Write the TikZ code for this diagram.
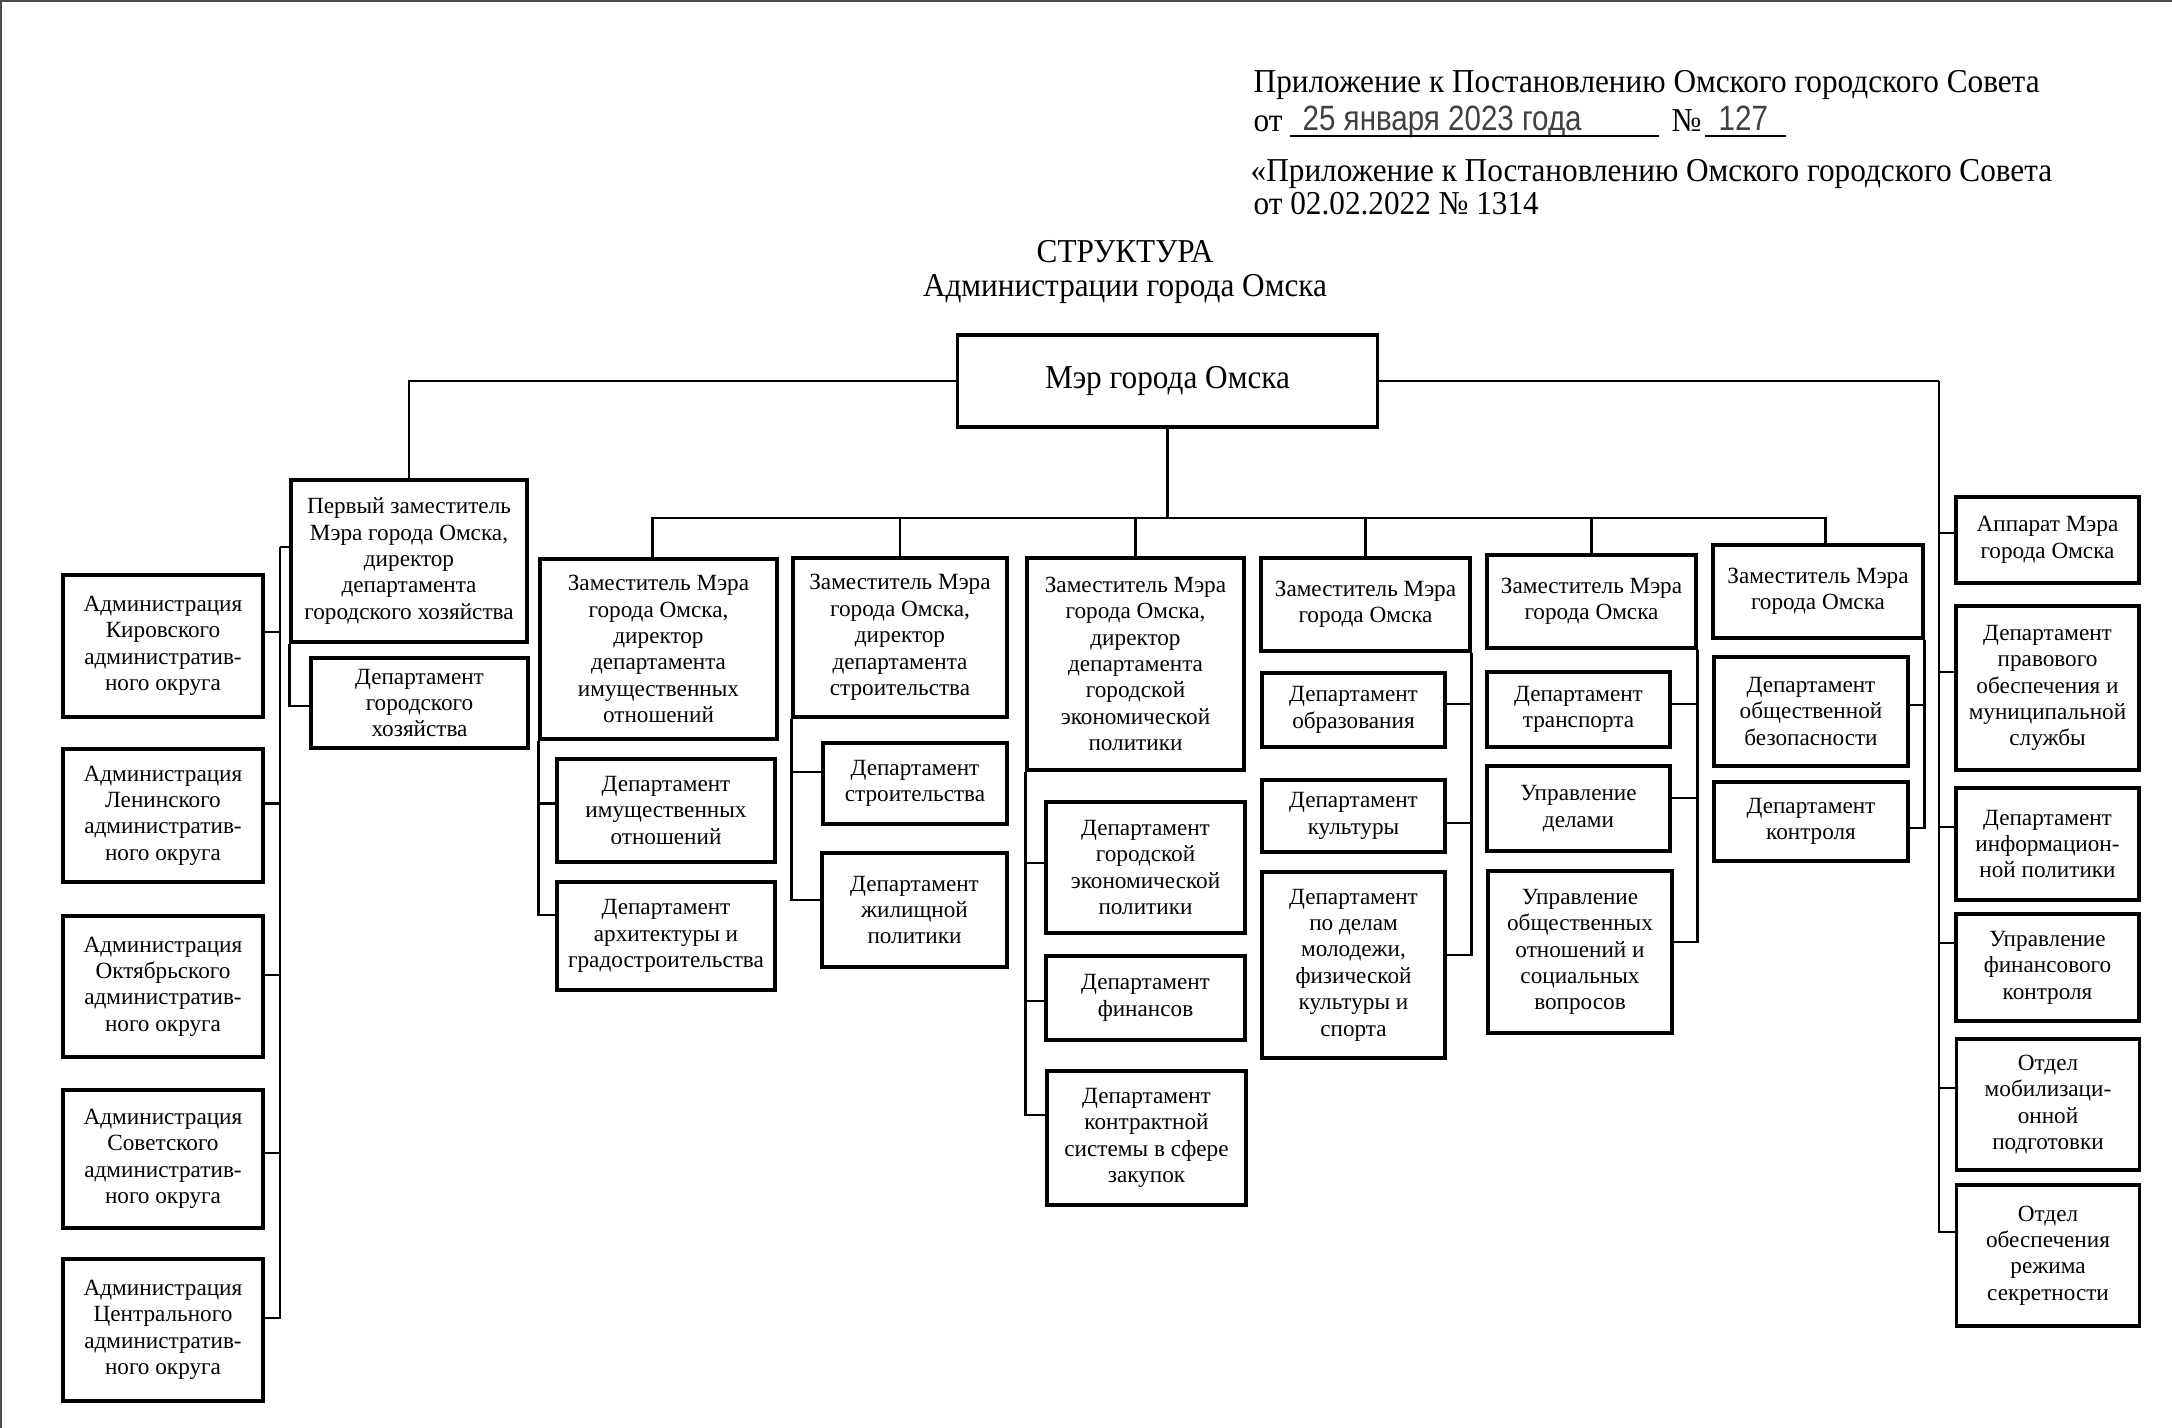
\documentclass[tikz,border=0pt]{standalone}
\usepackage{fontspec}
\setmainfont{Liberation Serif}
\newfontfamily\handfont[FakeStretch=0.84]{Liberation Sans}
\newfontfamily\headserif[FakeStretch=0.935]{Liberation Serif}
\newcommand\boxfont{\fontsize{6.6}{7.5}\selectfont}
\newcommand\headfont{\headserif\fontsize{9.5}{11}\selectfont}
\tikzset{
  orgbox/.style={draw, line width=0.9pt, inner sep=1pt, align=center, font=\boxfont},
  orgline/.style={line width=0.75pt},
  headline/.style={anchor=base west, inner sep=0pt, font=\headfont},
  handtext/.style={anchor=base west, inner sep=0pt, text=black!75, font=\handfont\fontsize{10}{12}\selectfont},
}
\begin{document}
\begin{tikzpicture}[x=0.01cm, y=-0.01cm]
  \useasboundingbox (0,0) rectangle (2172,1428);
  % edge of the scanned sheet
  \draw[line width=1.2pt, black!70] (0,1428) -- (0,0) -- (2172,0);

  % header
  \node[headline] (app1) at (1253,93) {Приложение к Постановлению Омского городского Совета};
  \node[headline] (app2) at (1253,132) {от};
  \node[handtext] (date) at (1302,131) {25 января 2023 года};
  \node[headline] (nsign) at (1671,132) {№};
  \node[handtext] (num) at (1718,131) {127};
  \draw[line width=0.5pt] (1290,136) -- (1659,136);
  \draw[line width=0.5pt] (1705,136) -- (1786,136);
  \node[headline] (app3) at (1250,182) {«Приложение к Постановлению Омского городского Совета};
  \node[headline] (app4) at (1253,215) {от 02.02.2022 № 1314};

  % title
  \node[font=\headfont] (ttl1) at (1125,252) {СТРУКТУРА};
  \node[font=\headfont] (ttl2) at (1125,289) {Администрации города Омска};

  % mayor
  \node[orgbox, font=\headfont, minimum width=4.19cm, minimum height=0.92cm] (mayor) at (1167.5,381) {Мэр города Омска};

  % first deputy and districts
  \node[orgbox, minimum width=2.36cm, minimum height=1.62cm] (fd) at (409,561)
    {Первый заместитель\\Мэра города Омска,\\директор\\департамента\\городского хозяйства};
  \node[orgbox, minimum width=2.17cm, minimum height=0.90cm] (dgh) at (419.5,703)
    {Департамент\\городского\\хозяйства};
  \node[orgbox, minimum width=2cm, minimum height=1.42cm] (kir) at (163,646)
    {Администрация\\Кировского\\административ-\\ного округа};
  \node[orgbox, minimum width=2cm, minimum height=1.33cm] (len) at (163,815.5)
    {Администрация\\Ленинского\\административ-\\ного округа};
  \node[orgbox, minimum width=2cm, minimum height=1.41cm] (okt) at (163,986.5)
    {Администрация\\Октябрьского\\административ-\\ного округа};
  \node[orgbox, minimum width=2cm, minimum height=1.38cm] (sov) at (163,1159)
    {Администрация\\Советского\\административ-\\ного округа};
  \node[orgbox, minimum width=2cm, minimum height=1.42cm] (cen) at (163,1330)
    {Администрация\\Центрального\\административ-\\ного округа};

  % deputies
  \node[orgbox, minimum width=2.37cm, minimum height=1.80cm] (z1) at (658.5,649)
    {Заместитель Мэра\\города Омска,\\директор\\департамента\\имущественных\\отношений};
  \node[orgbox, minimum width=2.18cm, minimum height=1.03cm] (d11) at (666,810.5)
    {Департамент\\имущественных\\отношений};
  \node[orgbox, minimum width=2.18cm, minimum height=1.08cm] (d12) at (666,936)
    {Департамент\\архитектуры и\\градостроительства};

  \node[orgbox, minimum width=2.14cm, minimum height=1.59cm] (z2) at (900,637.5)
    {Заместитель Мэра\\города Омска,\\директор\\департамента\\строительства};
  \node[orgbox, minimum width=1.84cm, minimum height=0.81cm] (d21) at (915,783.5)
    {Департамент\\строительства};
  \node[orgbox, minimum width=1.85cm, minimum height=1.14cm] (d22) at (914.5,910)
    {Департамент\\жилищной\\политики};

  \node[orgbox, minimum width=2.17cm, minimum height=2.12cm] (z3) at (1135.5,664)
    {Заместитель Мэра\\города Омска,\\директор\\департамента\\городской\\экономической\\политики};
  \node[orgbox, minimum width=1.99cm, minimum height=1.31cm] (d31) at (1145.5,867.5)
    {Департамент\\городской\\экономической\\политики};
  \node[orgbox, minimum width=1.99cm, minimum height=0.84cm] (d32) at (1145.5,998)
    {Департамент\\финансов};
  \node[orgbox, minimum width=1.99cm, minimum height=1.34cm] (d33) at (1146.5,1138)
    {Департамент\\контрактной\\системы в сфере\\закупок};

  \node[orgbox, minimum width=2.09cm, minimum height=0.93cm] (z4) at (1365.5,604.5)
    {Заместитель Мэра\\города Омска};
  \node[orgbox, minimum width=1.83cm, minimum height=0.74cm] (d41) at (1353.5,710)
    {Департамент\\образования};
  \node[orgbox, minimum width=1.83cm, minimum height=0.72cm] (d42) at (1353.5,816)
    {Департамент\\культуры};
  \node[orgbox, minimum width=1.83cm, minimum height=1.86cm] (d43) at (1353.5,965)
    {Департамент\\по делам\\молодежи,\\физической\\культуры и\\спорта};

  \node[orgbox, minimum width=2.09cm, minimum height=0.93cm] (z5) at (1591.5,601.5)
    {Заместитель Мэра\\города Омска};
  \node[orgbox, minimum width=1.83cm, minimum height=0.75cm] (d51) at (1578.5,709.5)
    {Департамент\\транспорта};
  \node[orgbox, minimum width=1.83cm, minimum height=0.85cm] (d52) at (1578.5,808.5)
    {Управление\\делами};
  \node[orgbox, minimum width=1.84cm, minimum height=1.62cm] (d53) at (1580,952)
    {Управление\\общественных\\отношений и\\социальных\\вопросов};

  \node[orgbox, minimum width=2.10cm, minimum height=0.93cm] (z6) at (1818,591.5)
    {Заместитель Мэра\\города Омска};
  \node[orgbox, minimum width=1.94cm, minimum height=1.09cm] (d61) at (1811,711.5)
    {Департамент\\общественной\\безопасности};
  \node[orgbox, minimum width=1.94cm, minimum height=0.79cm] (d62) at (1811,821.5)
    {Департамент\\контроля};

  % right column
  \node[orgbox, minimum width=1.83cm, minimum height=0.86cm] (r1) at (2047.5,540)
    {Аппарат Мэра\\города Омска};
  \node[orgbox, minimum width=1.83cm, minimum height=1.64cm] (r2) at (2047.5,688)
    {Департамент\\правового\\обеспечения и\\муниципальной\\службы};
  \node[orgbox, minimum width=1.83cm, minimum height=1.12cm] (r3) at (2047.5,844)
    {Департамент\\информацион-\\ной политики};
  \node[orgbox, minimum width=1.83cm, minimum height=1.07cm] (r4) at (2047.5,967.5)
    {Управление\\финансового\\контроля};
  \node[orgbox, minimum width=1.83cm, minimum height=1.31cm] (r5) at (2048,1104.5)
    {Отдел\\мобилизаци-\\онной\\подготовки};
  \node[orgbox, minimum width=1.83cm, minimum height=1.41cm] (r6) at (2048,1255.5)
    {Отдел\\обеспечения\\режима\\секретности};

  % links from the mayor
  \coordinate (bus) at (1169,518);
  \coordinate (trunkR) at (1939,381);
  \coordinate (trunkL) at (280,547);
  \draw[orgline] (mayor.west) -| (fd.north);
  \draw[orgline] (mayor.east) -- (trunkR);
  \draw[orgline] (mayor.south) -- (mayor.south |- bus);
  \draw[orgline] ([xshift=-1.7pt]z1.north) |- (bus) -| ([xshift=2.2pt]z6.north);
  \foreach \n in {z2,z3,z4,z5}
    \draw[orgline] (\n.north) -- (\n.north |- bus);
  \foreach \n/\s in {r1/2,r2/4.5,r3/4.8,r4/7,r5/4.7,r6/6.7}
    \draw[orgline] ([yshift=\s pt]\n.west) -| (trunkR);

  % first deputy
  \draw[orgline] (fd.west |- trunkL) -- (trunkL);
  \foreach \n/\s in {kir/4,len/3.5,okt/3.3,sov/1.7,cen/3.4}
    \draw[orgline] ([yshift=\s pt]\n.east) -| (trunkL);
  \draw[orgline] (fd.south west) |- ([yshift=-0.9pt]dgh.west);

  % departments under the deputies
  \foreach \n/\s in {d11/2,d12/6}
    \draw[orgline] (z1.south west) |- ([yshift=\s pt]\n.west);
  \foreach \n/\s in {d21/3.3,d22/2.8}
    \draw[orgline] (z2.south west) |- ([yshift=\s pt]\n.west);
  \foreach \n/\s in {d31/1.3,d32/-0.9,d33/6.5}
    \draw[orgline] (z3.south west) |- ([yshift=\s pt]\n.west);
  \foreach \n/\s in {d41/1.7,d42/-2,d43/2.8}
    \draw[orgline] (z4.south east) |- ([yshift=\s pt]\n.east);
  \foreach \n/\s in {d51/1.6,d52/3,d53/2.8}
    \draw[orgline] (z5.south east) |- ([yshift=\s pt]\n.east);
  \foreach \n/\s in {d61/1.8,d62/-1.8}
    \draw[orgline] (z6.south east) |- ([yshift=\s pt]\n.east);
\end{tikzpicture}
\end{document}
